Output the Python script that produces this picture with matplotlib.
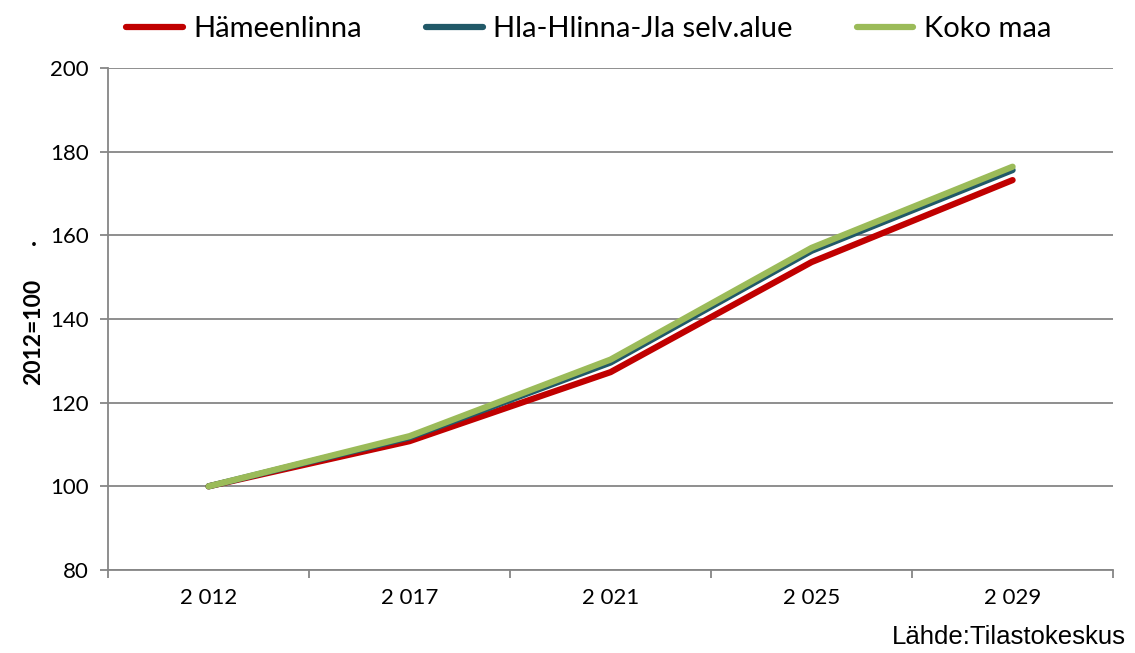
import numpy as np
import matplotlib.pyplot as plt

# Index values 2012=100
years = ['2 012', '2 017', '2 021', '2 025', '2 029']
hameenlinna = [100, 110.8, 127.3, 153.6, 173.2]
seutu = [100, 111.7, 129.6, 156.3, 175.6]
koko_maa = [100, 112.0, 130.3, 157.0, 176.4]

plt.rcParams['font.family'] = ['Lato', 'DejaVu Sans']

fig = plt.figure(figsize=(11.35, 6.53), dpi=100)
ax = fig.add_axes([0.0952, 0.1271, 0.8855, 0.7688])

x = np.arange(len(years))
ax.plot(x, hameenlinna, color='#c00000', lw=4.5, solid_capstyle='round', label='Hämeenlinna', zorder=3)
ax.plot(x, seutu, color='#215968', lw=4.5, solid_capstyle='round', label='Hla-Hlinna-Jla selv.alue', zorder=4)
ax.plot(x, koko_maa, color='#9bbb59', lw=4.5, solid_capstyle='round', label='Koko maa', zorder=5)

ax.set_xlim(-0.5, 4.5)
ax.set_ylim(80, 200)
ax.set_yticks(range(80, 201, 20))
ax.set_xticks(x)
ax.set_xticklabels(years)
ax.set_xticks(np.arange(-0.5, 4.6, 1), minor=True)
ax.tick_params(axis='x', which='major', length=0, pad=13, labelsize=16)
ax.tick_params(axis='x', which='minor', length=6, color='#868686', width=1.3)
ax.tick_params(axis='y', length=6, color='#868686', width=1.3, labelsize=16, pad=8)

ax.grid(axis='y', color='#868686', lw=1.3)
ax.set_axisbelow(True)
for side in ['top', 'right']:
    ax.spines[side].set_visible(False)
for side in ['left', 'bottom']:
    ax.spines[side].set_color('#868686')
    ax.spines[side].set_linewidth(1.3)

ax.set_ylabel('2012=100', fontsize=16.5, fontweight='bold')
ax.yaxis.set_label_coords(-0.064, 0.475)
fig.text(0.03, 0.635, '.', fontsize=18, fontweight='bold', ha='center', va='center')

ax.legend(loc='upper center', bbox_to_anchor=(0.478, 1.155), ncol=3, frameon=False,
          fontsize=21, handlelength=1.95, handletextpad=0.35, columnspacing=2.2)

fig.text(0.992, 0.006, 'Lähde:Tilastokeskus', ha='right', va='bottom', fontsize=18.5,
         family=['Liberation Sans', 'DejaVu Sans'])

plt.savefig('out.png', dpi=100)
